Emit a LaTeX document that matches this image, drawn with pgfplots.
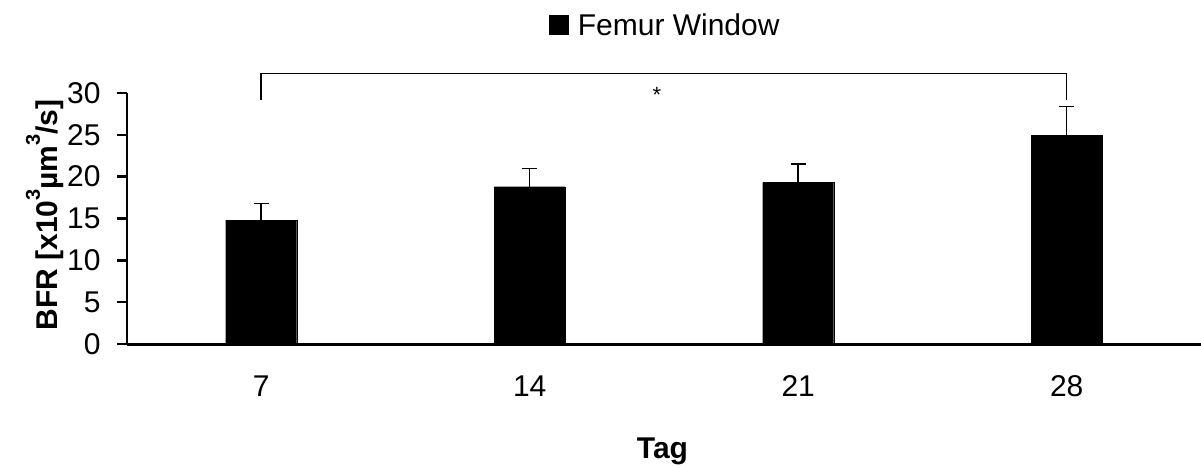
\documentclass[border=0pt]{standalone}
\usepackage{fontspec}
\setmainfont{Liberation Sans}
\usepackage{pgfplots}
\pgfplotsset{compat=1.18}

\newcommand{\ticksize}{\fontsize{30}{35}\selectfont}
\newcommand{\labelsize}{\fontsize{30}{35}\selectfont\bfseries}
\newcommand{\supthree}{\raisebox{18pt}{\fontsize{20}{20}\selectfont 3}}

\begin{document}
\begin{tikzpicture}
% page area, with the axis box's lower left corner at the origin
\path[use as bounding box] (-127pt,-124pt) rectangle (1074pt,344pt);
\begin{axis}[
  scale only axis,
  width=1074pt, height=251pt,
  xmin=-0.5, xmax=3.5,
  ymin=0, ymax=30,
  clip=false,
  ybar, bar width=71pt,
  axis x line*=bottom, axis y line*=left,
  x axis line style={line width=3pt, -},
  y axis line style={line width=2.6pt, -},
  xtick={0,1,2,3},
  xticklabels={7,14,21,28},
  x tick style={draw=none},
  ytick={0,5,...,30},
  y tick style={line width=2.6pt, black},
  tick align=outside,
  major tick length=10pt,
  /pgf/number format/assume math mode=true,
  ticklabel style={font=\ticksize},
  xticklabel style={anchor=base, yshift=-42pt},
  yticklabel style={anchor=east, xshift=-13pt},
  legend style={at={(0.5014,1.271)}, anchor=center, draw=none, fill=none,
    font=\ticksize, inner sep=0pt,
    /tikz/every odd column/.append style={column sep=7pt}},
  legend image code/.code={\fill[black] (0pt,-9.5pt) rectangle (19pt,9.5pt);},
]
\addplot[fill=black, draw=black,
  error bars/.cd, y dir=plus, y explicit,
  error bar style={line width=1.5pt, black},
  error mark options={rotate=90, line width=1.5pt, mark size=7.5pt, black}]
  coordinates {
    (0,14.8) +- (0,2.0)
    (1,18.8) +- (0,2.2)
    (2,19.3) +- (0,2.2)
    (3,24.9) +- (0,3.5)
  };
\addlegendentry{Femur Window}

% significance bracket between day 7 and day 28
\draw[line width=1.5pt, black] (axis cs:0,29.16) -- (axis cs:0,32.35)
  -- (axis cs:3,32.35) -- (axis cs:3,29.16);
\node[font=\fontsize{22}{26}\selectfont, anchor=base] at (axis cs:1.474,28.9) {*};
\end{axis}
% axis titles
\node[rotate=90, anchor=base, font=\labelsize] at (-69pt,129pt)
  {BFR [x10\supthree µm\supthree/s]};
\node[anchor=base, font=\labelsize] at (535.5pt,-114pt) {Tag};
\end{tikzpicture}
\end{document}
